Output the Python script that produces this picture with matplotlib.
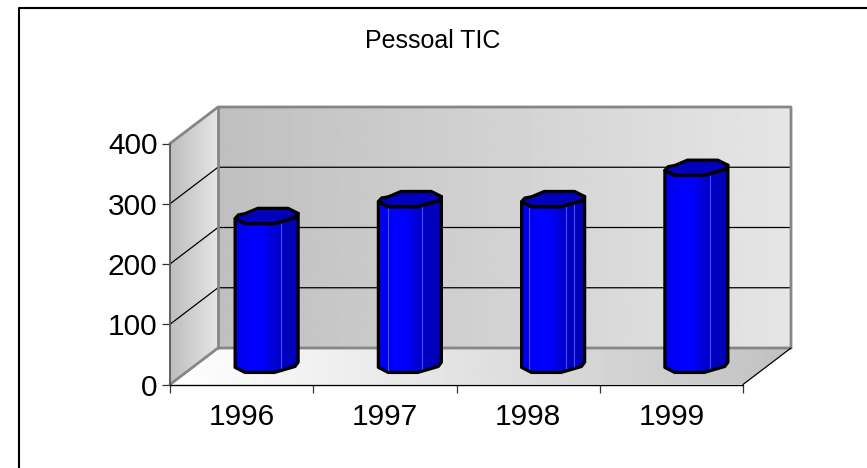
import matplotlib
matplotlib.use("Agg")
import matplotlib.pyplot as plt
import numpy as np
from matplotlib.patches import Polygon

plt.rcParams['font.family'] = ['Liberation Sans', 'DejaVu Sans']

# datos
anos = ['1996', '1997', '1998', '1999']
valores = [247, 275, 275, 327]
yticks = [0, 100, 200, 300, 400]
titulo = 'Pessoal TIC'

# aristas claras de cada columna (fraccion del ancho)
aristas = [[0.73], [0.15, 0.70], [0.12, 0.71, 0.83], [0.72]]

W, H = 867, 468
fig = plt.figure(figsize=(W / 100, H / 100), dpi=100)

# el eje coincide con el plano frontal del grafico
x0, x1, y0, y1 = 170, 743, 384.5, 143.5
ax = fig.add_axes([x0 / W, 1 - y0 / H, (x1 - x0) / W, (y0 - y1) / H])
ax.set_facecolor('none')
n = len(anos)

# profundidad en unidades de datos
dx = 48 / ((x1 - x0) / n)
dy = 36.5 / ((y0 - y1) / 400)


def recorte(im, puntos, zorder):
    p = Polygon(puntos, closed=True, transform=ax.transData, fc='none', ec='none', zorder=zorder)
    ax.add_patch(p)
    # sin esto la imagen queda cortada por la caja del eje
    im.set_clip_box(fig.bbox)
    im.set_clip_path(p)


def gradiente(c0, c1, extent, clip, zorder):
    im = ax.imshow(np.linspace(c0, c1, 256).reshape(1, -1), cmap='gray', vmin=0, vmax=1,
                   extent=extent, aspect='auto', zorder=zorder, interpolation='bilinear')
    recorte(im, clip, zorder)


def borde(xs, ys, color, lw, zorder=3):
    ax.plot(xs, ys, color=color, lw=lw, clip_on=False, zorder=zorder, solid_capstyle='round')


# paredes y suelo
gradiente(0.75, 0.90, (dx, n + dx, 0 + dy, 400 + dy),
          [(dx, dy), (n + dx, dy), (n + dx, 400 + dy), (dx, 400 + dy)], 1)
gradiente(0.74, 0.90, (0, dx, 0, 400 + dy),
          [(0, 0), (dx, dy), (dx, 400 + dy), (0, 400)], 1)
gradiente(1.0, 0.76, (0, n + dx, 0, dy),
          [(0, 0), (n, 0), (n + dx, dy), (dx, dy)], 1)

# lineas de division
for v in yticks[1:-1]:
    borde([0, dx, n + dx], [v, v + dy, v + dy], 'black', 0.9, 2)

# contornos grises de las paredes
gris = '#868686'
borde([0, dx, n + dx, n + dx], [400, 400 + dy, 400 + dy, dy], gris, 2.0)
borde([dx, dx], [dy, 400 + dy], gris, 2.0)
borde([0, dx, n + dx], [0, dy, dy], gris, 2.0)
borde([0, 0], [0, 400], '#555555', 1.3)
borde([n, n + dx], [0, dy], 'black', 0.9)
borde([0, n], [0, 0], 'black', 1.0)

# seccion de la columna: u = fraccion del ancho, v = fraccion del fondo
frente_u = [0, 0.156, 0.625, 0.95, 1.0]
frente_v = [0.33, 0, 0, 0.39, 0.67]
fondo_u = [0.84, 0.36, 0.156, 0.05]
fondo_v = [1.0, 1.0, 0.65, 0.57]

ancho = 0.44
fondo = 15.3 / ((y0 - y1) / 400)
base = 20
azul = np.array([[0.0, 0.0, 0.93], [0.0, 0.0, 1.0], [0.0, 0.0, 1.0], [0.0, 0.0, 0.86],
                 [0.0, 0.0, 0.76], [0.0, 0.0, 0.72]])

for i, val in enumerate(valores):
    izq = i + 0.507 + 0.5 * dx - ancho / 2
    fu = izq + np.array(frente_u) * ancho
    fv = np.array(frente_v) * fondo
    # cuerpo
    xs = list(fu) + list(fu[::-1])
    ys = list(base + fv) + list(base + val + fv[::-1])
    im = ax.imshow(azul.reshape(1, -1, 3), extent=(izq, izq + ancho, base, base + val + fondo),
                   aspect='auto', zorder=4, interpolation='bilinear')
    recorte(im, np.column_stack([xs, ys]), 4)
    # aristas claras
    for a in aristas[i]:
        xa = izq + a * ancho
        va = np.interp(a, frente_u, frente_v) * fondo
        ax.plot([xa, xa], [base + va, base + val + va], color='#4a4aff', lw=0.8, zorder=5,
                clip_on=False)
    # tapa
    tu = list(fu) + [izq + u * ancho for u in fondo_u]
    tv = list(fv) + [v * fondo for v in fondo_v]
    tapa = np.column_stack([tu, base + val + np.array(tv)])
    ax.add_patch(Polygon(tapa, closed=True, fc='#0000bd', ec='black', lw=2.3, zorder=6,
                         joinstyle='round', clip_on=False))
    # contorno
    ax.add_patch(Polygon(np.column_stack([xs, ys]), closed=True, fc='none', ec='black', lw=2.3,
                         zorder=6, joinstyle='round', clip_on=False))

ax.set_xlim(0, n)
ax.set_ylim(0, 400)
for s in ax.spines.values():
    s.set_visible(False)

# marcas en los limites, etiquetas centradas
ax.set_xticks(np.arange(n + 1))
ax.set_xticklabels([])
ax.set_xticks(np.arange(n) + 0.5, anos, minor=True)
ax.tick_params(axis='x', which='major', length=6, width=0.9, color='#333333')
ax.tick_params(axis='x', which='minor', length=0, pad=13, labelsize=21.5)
ax.set_yticks(yticks)
ax.tick_params(axis='y', length=6, width=0.9, color='#333333', labelsize=21.5, pad=3)

# titulo y marco
fig.text(433 / W, 1 - 41 / H, titulo, ha='center', va='center', fontsize=18)
fig.add_artist(plt.Line2D([19 / W, 19 / W, 1], [0, 1 - 7.5 / H, 1 - 7.5 / H], color='black', lw=1.5))

fig.savefig('out.png', dpi=100)
